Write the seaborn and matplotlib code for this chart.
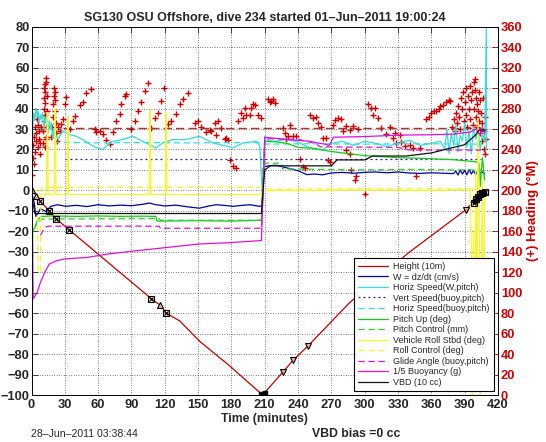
import numpy as np
import pandas as pd
import matplotlib
matplotlib.use('Agg')
import matplotlib.pyplot as plt
import seaborn as sns

## =============================== ##
## data (time in minutes, left axis units)

height_t = [0, 4.5, 8, 16, 22.5, 34, 108, 115.5, 121.5, 133.5, 151.5, 178.5, 208, 226.5, 235.5, 249, 286.5, 339, 391, 400, 405, 409]
height_v = [0, -2.6, -5.4, -10, -14, -19.3, -53, -56, -60, -63.8, -73.8, -85.8, -100, -88.7, -83, -76, -54.8, -30.7, -9.5, -4, -1, 0]

mark_box_t = [8, 16, 22.5, 34, 108, 121.5, 398, 400, 402, 404, 406, 408]
mark_box_v = [-5.4, -10, -14, -19.3, -53, -60, -6, -4, -3, -2, -1.5, -0.8]
mark_up_t = [0, 4.5, 115.5]
mark_up_v = [0, -2.6, -56]
mark_down_t = [226.5, 235.5, 249, 391]
mark_down_v = [-88.7, -83, -76, -9.5]
mark_fill_t = [207, 208.5, 210, 399, 401, 403, 405, 407]
mark_fill_v = [-99.6, -99.4, -99.2, -5, -3.5, -2.5, -1.8, -1.2]

w_t = [0, 1, 2.4, 4, 6, 8, 10, 13, 17.4, 23.4, 31, 40, 50, 60, 70, 80, 90, 100, 106, 112, 120, 130, 140, 151, 160,
       166.5, 175, 181.5, 190, 196.5, 205.5, 207.5, 209.5, 213, 220, 230, 240, 248, 255, 262, 270, 280, 290, 300, 310,
       320, 330, 340, 350, 360, 370, 380, 382, 384, 386, 388, 390, 392, 394, 396, 398, 400, 402, 404, 406, 408]
w_v = [0, -3, -6, -12.7, -11, -9, -9.5, -10.3, -7.8, -7, -7.8, -7.3, -7.9, -7, -7.6, -7.2, -7.5, -6.8, -6.2, -7, -7.6,
       -7.2, -8, -8.7, -7.6, -7, -7.4, -7.8, -7.3, -7, -7.8, -7.5, 11.5, 12, 12.3, 11, 9.6, 7.7, 8, 7.6, 8.5, 8.8, 8.4,
       8.8, 9, 8.6, 9, 8.5, 8.3, 8.6, 8.4, 8.2, 9.5, 7.5, 10, 8, 9.8, 7.6, 10.2, 8, 9.6, 7.8, 10, 8.5, 9, 8]

hs_t = [0, 1, 2, 3, 4, 5, 6, 7, 8, 9, 10, 11, 12, 13, 14, 15, 16, 17, 18, 19, 20, 21, 22, 24, 28, 34, 40, 49, 55, 64,
        73, 82, 91, 103, 112, 118, 127, 139, 151, 163.5, 175.5, 181.5, 190.5, 202.5, 205.5, 207, 208.5, 210, 213, 220,
        230, 240, 250, 256, 262, 270, 280, 290, 300, 310, 320, 330, 340, 350, 360, 368, 372, 374, 376, 378, 380, 382,
        384, 386, 388, 390, 392, 394, 396, 398, 400, 402, 404, 406, 408, 409.5, 409.5]
hs_v = [5, 30, 38, 34, 40, 36, 39, 33, 37, 35, 38, 30, 36, 33, 35, 28, 34, 30, 33, 25, 30, 24, 27, 25, 29, 27.3, 26.5,
        24, 21.6, 20, 24, 24.8, 26.5, 23.2, 20.7, 23.2, 24.8, 24.8, 26.5, 23.2, 21.6, 20.8, 23.2, 24, 21.6, 7, -4.6,
        26.5, 24.5, 24, 25, 23.5, 21, 20, 19.7, 23, 24, 22, 24, 23, 21.5, 23, 24.5, 22, 23, 24, 20, 30, 18, 28, 22, 32,
        19, 27, 24, 33, 21, 29, 18, 31, 25, 30, 20, 28, 24, 80, 20]

vs_buoy_t = [30, 405]
vs_buoy_v = [15.2, 15.2]

hs_buoy_t = [20, 60, 100, 140, 180, 207, 210, 250, 300, 350, 405]
hs_buoy_v = [23.5, 23.2, 23.4, 23.2, 23.4, 23.3, 22.6, 22.8, 22.6, 22.8, 22.6]

pitch_t = [0, 0.5, 1, 3, 5, 8, 10, 20, 40, 60, 80, 100, 112, 113, 150, 180, 207, 208.5, 210, 220, 230, 240, 255, 270,
           285, 300, 315, 330, 350, 370, 380, 390, 400, 403, 404, 406, 408]
pitch_v = [0, -65, -20, -18, -15, -13, -12.7, -12.5, -12.7, -12.5, -12.7, -12.6, -12.7, -15, -14.8, -15, -14.6, 5, 24,
           23.7, 23, 21, 20.5, 19, 18, 17, 16.5, 16, 15.7, 15.2, 15, 14.5, 14, 13, 2, 16, 5]

pitchc_t = [0.5, 0.5, 1, 5, 10, 115, 116, 207, 208.5, 210, 225, 226, 270, 300, 340, 380, 405]
pitchc_v = [0, -95, -20, -16, -14, -13.8, -14.6, -14.6, 13, 13.3, 13.3, 10.5, 10.2, 10, 10.3, 10, 10]

roll_t = [0, 2, 4, 13.5, 14, 14.5, 15, 20.5, 21, 21.5, 22, 32, 32.5, 33, 33.5, 106, 106.5, 107, 107.5, 120.5, 121,
          121.5, 122, 150, 207, 208, 209, 250, 300, 350, 390, 395, 396, 397, 398, 399, 400, 401, 402, 403, 404, 405,
          406, 407, 408]
roll_v = [0, -1, -2, -2, 38, 38, -2, -2, 40, 40, -2, -2, 36, 36, -2, -2, 39, 39, -2, -2, 38, 37, -2, -2, -2, -1, 0, 0,
          0.2, 0, 0.3, 0, -30, -100, -20, -98, 10, -60, 35, 0, -100, -40, 5, -95, 0]

rollc_t = [0, 5, 6, 6.5, 8, 8.5, 10, 30, 207, 208, 210, 300, 405]
rollc_v = [0, 0, -40, -40, -40, 1, 1.5, 1.5, 1.5, 1, 0.6, 0.8, 0.8]

glide_t = [8, 10, 12, 15, 115, 116, 207, 208.5, 210, 240, 255, 260, 330, 340, 405]
glide_v = [-22, -20, -18, -17.5, -17.5, -18.5, -18.5, 0, 25.3, 25, 23, 21.3, 21, 19.7, 19.7]

buoy_t = [0, 1, 1.5, 5, 8, 12, 16, 22.5, 30, 49.5, 70, 94.5, 120, 151, 180, 207, 208.5, 210, 230, 250, 265, 268, 272,
          300, 330, 360, 380, 395, 400, 404, 406, 408]
buoy_v = [0, -30, -53, -50, -45, -40, -36, -34.4, -33.5, -32.8, -31, -29.5, -28, -26.2, -25.5, -24.5, 0, 26, 24.8, 24,
          22.5, 22, 26, 26.3, 27, 27.2, 27.5, 28.5, 30, 27, 31, 28]

vbd_t = [0, 1, 3, 207, 208.5, 210, 215, 270, 275, 300, 307, 337, 360, 376, 390, 400, 403, 409]
vbd_v = [0, -5, -11.3, -11.3, 0, 10, 12, 12, 14.9, 14.9, 16.8, 16.8, 18.3, 20.5, 22.3, 27.2, 29.5, 29.5]

# heading (degrees, right axis)
head_t = [0.5, 1, 1.5, 2, 2.5, 3, 3.5, 4, 4.5, 5, 5.5, 6, 6.5, 7, 7.5, 8, 9,
          10, 10.5, 11, 11, 11.5, 11.5, 12, 12, 12.5, 12.5, 13, 13, 13.5, 13.5, 14, 14, 12, 13,
          18, 18.5, 19, 19.5, 20, 20.5, 21, 21, 21.5, 22, 22.5, 23,
          24, 25.5, 27, 28.5, 30, 31.5, 34.5, 37.5, 39, 43.5, 46.5, 49.5, 54,
          57, 58.5, 61.5, 64.5, 67.5, 70.5, 73.5, 76.5, 79.5, 81, 84, 85.5,
          90, 93, 96, 99, 102, 105, 108, 111, 114, 117, 119.4,
          123, 126, 130.5, 133.5, 136.5, 141, 147, 150, 153, 157.5, 160.5, 162, 165, 166.5, 168, 171, 174, 175.5, 177,
          178.5, 181.5, 184.5, 186, 189, 190.5, 192, 193.5, 196.5, 198, 199.5, 201, 204, 207,
          213, 214.5, 216, 217.5, 219, 226.5, 228, 229.5, 231, 232.5, 235.5, 238.5, 241.5, 244.5, 246,
          250.5, 253.5, 256.5, 258, 261, 262.5, 265.5, 267, 268.5,
          271.5, 273, 276, 279, 280.5, 283.5, 286.5, 289.5, 294, 283.5, 286.5, 288, 291, 292.5, 300,
          303, 306, 307.5, 309, 312, 315, 319.5, 322.5, 325.5, 327, 328.5,
          331.5, 333, 336, 340.5, 343.5, 346.5, 350,
          355.5, 357.6, 360, 362, 364.5, 366.6, 367.5, 370.5, 373.5, 375.6, 376.5,
          379, 380, 381, 382, 383, 384, 385, 386, 387, 388, 388.5, 389, 390, 391, 391.5, 392, 393, 394, 394.5, 395,
          396, 397, 397.5, 398, 398.5, 399, 399.6, 400, 400.5, 401, 401.5, 402, 402.5, 403, 403.5, 404, 405, 405.5,
          406, 406.5, 407, 407.5, 408, 408.5, 409]
head_h = [215, 232, 244, 226, 252, 262, 238, 248, 256, 270, 264, 242, 250, 258, 236, 246, 262,
          246, 258, 268, 280, 290, 300, 304, 296, 285, 274, 262, 252, 310, 306, 292, 278, 242, 250,
          252, 262, 272, 284, 292, 300, 296, 288, 278, 266, 256, 248,
          262, 258, 265, 270, 284, 291, 260, 268, 273, 283, 286, 295, 299,
          260, 257, 258, 255, 249, 245, 257, 268, 275, 284, 292, 294,
          260, 268, 278, 286, 297, 305, 261, 271, 276, 287, 300,
          265, 268, 275, 284, 289, 295, 266, 268, 262, 257, 259, 258, 266, 254, 268, 261, 250, 251, 249,
          230, 224, 222, 268, 276, 271, 281, 274, 274, 281, 284, 283, 274, 271,
          289, 286, 287, 289, 285, 261, 256, 250, 253, 264, 253, 253, 231, 223, 222,
          274, 271, 272, 266, 262, 251, 251, 230, 228,
          264, 269, 271, 270, 258, 263, 259, 263, 260, 239, 236, 220, 210, 214, 196,
          284, 281, 274, 281, 271, 261, 255, 262, 251, 256, 246,
          254, 247, 243, 244, 241, 214, 241,
          270, 272, 276, 278, 278, 280, 282, 283, 286, 288, 287,
          262, 270, 258, 276, 266, 282, 272, 260, 290, 280, 296, 268, 286, 300, 274, 262, 292, 280, 302, 270,
          288, 296, 264, 306, 280, 298, 309, 290, 272, 284, 262, 278, 268, 296, 256, 288, 276, 248,
          266, 290, 258, 240, 272, 236, 250]
head_cmd_t = [28, 405]
head_cmd_h = [261, 261]

## =============================== ##

sns.set_style('white')
plt.rcParams['font.family'] = ['Liberation Sans', 'DejaVu Sans']
plt.rcParams['axes.unicode_minus'] = True

RED = '#cc0000'

fig = plt.figure(figsize=(5.46, 4.42), dpi=100)
ax = fig.add_axes([31.5/546, 47/442, 466.5/546, 368.3/442])

series = [
    ('Height (10m)', height_t, height_v, '#c00000', '-'),
    ('W = dz/dt (cm/s)', w_t, w_v, '#0000aa', '-'),
    ('Horiz Speed(W,pitch)', hs_t, hs_v, '#33dddd', '-'),
    ('Vert Speed(buoy,pitch)', vs_buoy_t, vs_buoy_v, '#1a1a99', (0, (1.5, 2.5))),
    ('Horiz Speed(buoy,pitch)', hs_buoy_t, hs_buoy_v, '#33dddd', (0, (5, 3))),
    ('Pitch Up (deg)', pitch_t, pitch_v, '#11cc11', '-'),
    ('Pitch Control (mm)', pitchc_t, pitchc_v, '#33cc33', (0, (5, 3))),
    ('Vehicle Roll Stbd (deg)', roll_t, roll_v, '#f5f530', '-'),
    ('Roll Control (deg)', rollc_t, rollc_v, '#f5f530', (0, (5, 3))),
    ('Glide Angle (buoy,pitch)', glide_t, glide_v, '#dd11dd', (0, (5, 3))),
    ('1/5 Buoyancy (g)', buoy_t, buoy_v, '#dd11dd', '-'),
    ('VBD (10 cc)', vbd_t, vbd_v, '#111111', '-'),
]

handles = []
for label, t, v, color, ls in series:
    df = pd.DataFrame({'t': t, 'v': v})
    sns.lineplot(data=df, x='t', y='v', ax=ax, sort=False, estimator=None,
                 color=color, linestyle=ls, lw=0.9, label=label, legend=False)
    handles.append(ax.lines[-1])

# dive markers on the height trace
ax.plot(mark_box_t, mark_box_v, 's', ms=4.5, mfc='none', mec='k', mew=0.8)
ax.plot(mark_box_t, mark_box_v, 'x', ms=3.5, mec='k', mew=0.8)
ax.plot(mark_up_t, mark_up_v, '^', ms=5, mfc='#f0b0a0', mec='k', mew=0.8)
ax.plot(mark_down_t, mark_down_v, 'v', ms=5, mfc='#f0b0a0', mec='k', mew=0.8)
ax.plot(mark_fill_t, mark_fill_v, 's', ms=3.5, mfc='k', mec='k')

ax.set_xlim(0, 420)
ax.set_ylim(-100, 80)
ax.set_xticks(np.arange(0, 421, 30))
ax.set_yticks(np.arange(-100, 81, 10))
ax.grid(True, color='k', linestyle=(0, (1, 2.5)), lw=0.5)
ax.tick_params(direction='in', length=4, top=True, labelsize=9.3, width=0.6)
ax.tick_params(axis='y', pad=1.5)
ax.tick_params(axis='x', pad=3)
for lab in ax.get_xticklabels() + ax.get_yticklabels():
    lab.set_fontweight('bold')
ax.set_xlabel('Time (minutes)', fontsize=8.8, fontweight='bold', labelpad=1)
ax.set_ylabel('')
for sp in ax.spines.values():
    sp.set_color('k')
    sp.set_linewidth(0.7)
ax.set_title('SG130 OSU Offshore, dive 234 started 01\u2013Jun\u20132011 19:00:24',
             fontsize=9, fontweight='bold', pad=4)

leg = ax.legend(handles=handles, labels=[s[0] for s in series], loc='lower right',
                bbox_to_anchor=(0.991, 0.011), borderaxespad=0, fontsize=6.5,
                handlelength=3.4, handletextpad=0.55, labelspacing=0.17, borderpad=0.45,
                fancybox=False, framealpha=1, edgecolor='k')
leg.get_frame().set_linewidth(0.8)
leg.set_zorder(20)

# heading on its own right axis
ax2 = ax.twinx()
hd = pd.DataFrame({'t': head_t, 'h': head_h})
sns.scatterplot(data=hd, x='t', y='h', ax=ax2, marker='+', color=RED, s=16, linewidth=1.0, legend=False)
ax2.plot(head_cmd_t, head_cmd_h, color='#b83030', lw=1.0, linestyle=(0, (6, 3)))
ax2.set_ylim(0, 360)
ax2.set_yticks(np.arange(0, 361, 20))
ax2.set_xlim(0, 420)
ax2.tick_params(direction='in', length=4, colors=RED, labelsize=9.3, width=0.6, pad=2)
for lab in ax2.get_yticklabels():
    lab.set_fontweight('bold')
ax2.set_ylabel('(+) Heading (\u00b0M)', color=RED, fontsize=9.5, fontweight='bold', labelpad=3)
ax2.grid(False)
for sp in ax2.spines.values():
    sp.set_visible(False)
ax.set_zorder(ax2.get_zorder() + 1)
ax.patch.set_visible(False)

fig.text(31/546, 1 - 434/442, '28\u2013Jun\u20132011 03:38:44', fontsize=7.6, va='center', ha='left')
fig.text(312/546, 1 - 434/442, 'VBD bias =0 cc', fontsize=8.8, fontweight='bold', va='center', ha='left')

fig.savefig('out.png', dpi=100)
